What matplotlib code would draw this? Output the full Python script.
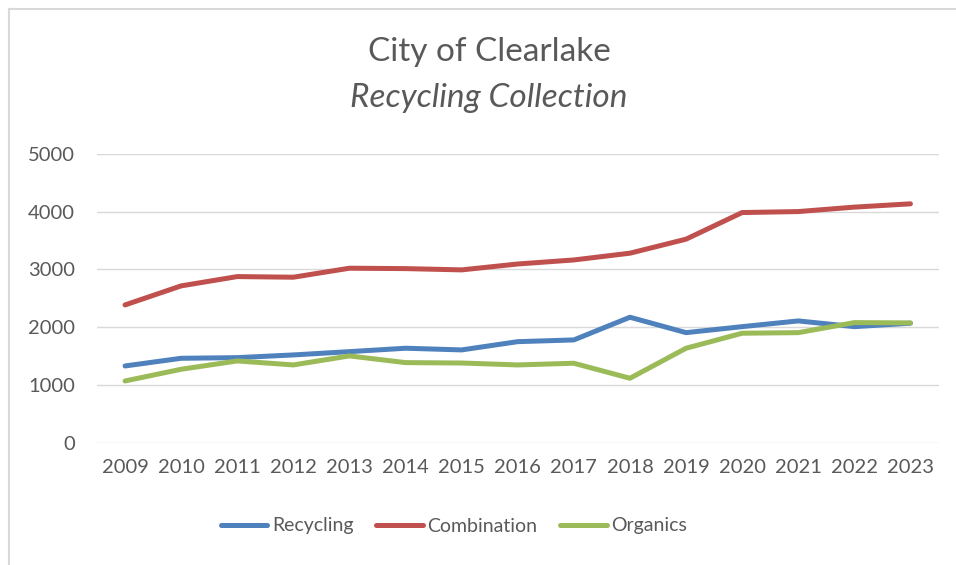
import matplotlib
matplotlib.use("Agg")
import matplotlib.pyplot as plt
from matplotlib.lines import Line2D

years = list(range(2009, 2024))
recycling = [1329, 1462, 1473, 1520, 1577, 1636, 1607, 1750, 1780, 2173, 1906, 2010, 2109, 2010, 2069]
combination = [2386, 2716, 2877, 2866, 3022, 3015, 2993, 3095, 3165, 3282, 3525, 3986, 4003, 4080, 4137]
organics = [1069, 1272, 1416, 1347, 1503, 1387, 1380, 1347, 1376, 1116, 1636, 1896, 1906, 2080, 2075]
yticks = [0, 1000, 2000, 3000, 4000, 5000]

TXT = "#595959"
plt.rcParams["font.family"] = ["Lato", "DejaVu Sans"]

fig = plt.figure(figsize=(9.56, 5.65), dpi=100)
ax = fig.add_axes([97 / 956, 1 - 442.7 / 565, 841.5 / 956, 288.7 / 565])

series = [
    ("Recycling", recycling, "#4F81BD"),
    ("Combination", combination, "#C0504D"),
    ("Organics", organics, "#9BBB59"),
]
for name, vals, col in series:
    ax.plot(years, vals, color=col, lw=3.6, label=name,
            solid_capstyle="round", solid_joinstyle="round")

ax.set_xlim(2008.5, 2023.5)
ax.set_ylim(0, 5000)
ax.set_xticks(years)
ax.set_yticks(yticks)
ax.grid(axis="y", color="#D9D9D9", lw=1.0)
ax.set_axisbelow(True)
for s in ax.spines.values():
    s.set_visible(False)
ax.tick_params(axis="both", length=0, labelsize=14.5, labelcolor=TXT)
ax.tick_params(axis="x", pad=12)
ax.tick_params(axis="y", pad=16)

fig.text(489 / 956, 1 - 52 / 565, "City of Clearlake", ha="center", va="center",
         fontsize=24, color=TXT)
fig.text(489 / 956, 1 - 98 / 565, "Recycling Collection", ha="center", va="center",
         fontsize=24, color=TXT, style="italic")

fig.legend(loc="center", bbox_to_anchor=(454 / 956, 1 - 526 / 565), ncol=3,
           frameon=False, fontsize=14, labelcolor=TXT, handlelength=2.4,
           handletextpad=0.25, columnspacing=1.15)

# chart area border (top and left edges visible)
fig.add_artist(Line2D([9 / 956, 9 / 956], [0, 1 - 9 / 565], color="#D9D9D9", lw=1.5,
                      transform=fig.transFigure))
fig.add_artist(Line2D([9 / 956, 1], [1 - 9 / 565, 1 - 9 / 565], color="#D9D9D9", lw=1.5,
                      transform=fig.transFigure))

fig.savefig("out.png", dpi=100)
